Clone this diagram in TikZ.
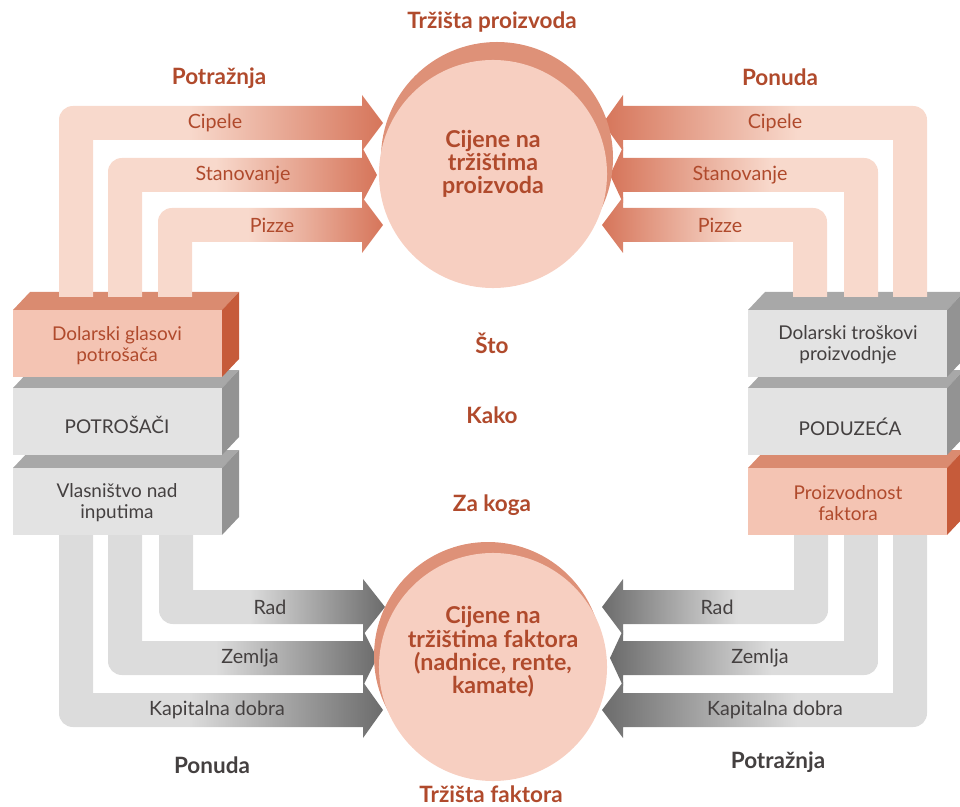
\documentclass[tikz,border=0pt]{standalone}
\usepackage{fontspec}
\setmainfont{Lato}
\usepackage{tikz}

\definecolor{rust}{HTML}{B04A2C}
\definecolor{ink}{HTML}{444040}
\definecolor{pkL}{HTML}{F8D9CC}
\definecolor{pkD}{HTML}{D6755A}
\definecolor{grL}{HTML}{DCDCDC}
\definecolor{grD}{HTML}{6C6C6C}
\definecolor{diskF}{HTML}{F7CFC1}
\definecolor{diskB}{HTML}{DE9178}
\definecolor{pkfront}{HTML}{F4C4B3}
\definecolor{pktop}{HTML}{DA8B70}
\definecolor{pkside}{HTML}{C65B3A}
\definecolor{grfront}{HTML}{E3E3E3}
\definecolor{grtop}{HTML}{A8A8A8}
\definecolor{grside}{HTML}{939393}

\pgfdeclarehorizontalshading{pkright}{100bp}{color(0bp)=(pkL); color(45bp)=(pkL); color(75bp)=(pkD); color(100bp)=(pkD)}
\pgfdeclarehorizontalshading{pkleft}{100bp}{color(0bp)=(pkD); color(25bp)=(pkD); color(55bp)=(pkL); color(100bp)=(pkL)}
\pgfdeclarehorizontalshading{grright}{100bp}{color(0bp)=(grL); color(45bp)=(grL); color(75bp)=(grD); color(100bp)=(grD)}
\pgfdeclarehorizontalshading{grleft}{100bp}{color(0bp)=(grD); color(25bp)=(grD); color(55bp)=(grL); color(100bp)=(grL)}

\newcommand{\slab}[5]{%
  \fill[#5top] (#1,#3) -- (#1+17,#3-18) -- (#2+17,#3-18) -- (#2,#3) -- cycle;
  \fill[#5side] (#2,#3) -- (#2+17,#3-18) -- (#2+17,#4-18) -- (#2,#4) -- cycle;
  \fill[#5front] (#1,#3) rectangle (#2,#4);}

\newcommand{\flow}[6]{%
  \pgfmathtruncatemacro{\fa}{#2>#6 ? 1 : -1}
  \pgfmathtruncatemacro{\fb}{#3>#4 ? 1 : -1}
  \shade[shading=#1] (#2+\fa*17,#4) -- (#2+\fa*17,#3+\fb*3)
    .. controls (#2+\fa*17,#3+\fb*11) and (#2+\fa*11,#3+\fb*17) .. (#2+\fa*3,#3+\fb*17)
    -- (#5,#3+\fb*17) -- (#5,#3+\fb*28) -- (#6,#3) -- (#5,#3-\fb*28) -- (#5,#3-\fb*17)
    -- (#2-\fa*17,#3-\fb*17) -- (#2-\fa*17,#4) -- cycle;}

\tikzset{
  title/.style={font=\bfseries\fontsize{16}{18}\selectfont, text=rust, inner sep=1pt},
  lbl/.style={font=\fontsize{14}{16}\selectfont},
  boxtxt/.style={font=\fontsize{13.5}{15}\selectfont, align=center, text=ink},
  disk/.style={circle, fill=diskF, minimum size=5.7cm, inner sep=0pt},
  disktxt/.style={font=\bfseries\fontsize{16.5}{16.5}\selectfont, align=center, text=rust}
}

\begin{document}
\begin{tikzpicture}[x=0.025cm, y=-0.025cm]

\useasboundingbox (0,0) rectangle (960,807);

\slab{13}{222}{468}{535}{gr}
\slab{13}{222}{388}{455}{gr}
\slab{13}{222}{310}{377}{pk}
\slab{748}{947}{468}{535}{pk}
\slab{748}{947}{388}{455}{gr}
\slab{748}{947}{310}{377}{gr}

\flow{pkright}{76}{123}{297}{362}{383}
\flow{pkright}{125}{175}{297}{362}{377}
\flow{pkright}{175}{225}{297}{362}{383}
\flow{pkleft}{910}{123}{297}{623}{603}
\flow{pkleft}{861}{175}{297}{623}{610}
\flow{pkleft}{810}{225}{297}{623}{602}

\flow{grright}{176}{607}{535}{363}{385}
\flow{grright}{125}{658}{535}{363}{377}
\flow{grright}{76}{710}{535}{363}{383}
\flow{grleft}{811}{607}{535}{623}{602}
\flow{grleft}{861}{658}{535}{623}{610}
\flow{grleft}{910}{710}{535}{623}{602}

\fill[diskB] (497,158) circle[radius=116];
\node[disk] (prodmkt) at (493,174) {};
\fill[diskB] (488,656) circle[radius=114];
\node[disk] (factmkt) at (493,667) {};

\node[disktxt] (prodprice) at (493,164) {Cijene na\\tržištima\\proizvoda};
\node[disktxt] (factprice) at (493,652) {Cijene na\\tržištima faktora\\(nadnice, rente,\\kamate)};

\node[title] (prodhead) at (492,22) {Tržišta proizvoda};
\node[title] (facthead) at (491,794) {Tržišta faktora};
\node[title] (demtop) at (219,78) {Potražnja};
\node[title] (suptop) at (780,77) {Ponuda};
\node[title] (what) at (492,343) {Što};
\node[title] (how) at (492,415) {Kako};
\node[title] (whom) at (492,505) {Za koga};
\node[title, text=ink] (supbot) at (212,765) {Ponuda};
\node[title, text=ink] (dembot) at (778,762) {Potražnja};

\node[lbl, text=rust] (shoesL) at (215,123) {Cipele};
\node[lbl, text=rust] (houseL) at (243,175) {Stanovanje};
\node[lbl, text=rust] (pizzaL) at (272,225) {Pizze};
\node[lbl, text=rust] (shoesR) at (775,123) {Cipele};
\node[lbl, text=rust] (houseR) at (740,175) {Stanovanje};
\node[lbl, text=rust] (pizzaR) at (720,225) {Pizze};

\node[lbl, text=ink] (labourL) at (270,607) {Rad};
\node[lbl, text=ink] (landL) at (250,658) {Zemlja};
\node[lbl, text=ink] (capL) at (217,710) {Kapitalna dobra};
\node[lbl, text=ink] (labourR) at (717,607) {Rad};
\node[lbl, text=ink] (landR) at (760,658) {Zemlja};
\node[lbl, text=ink] (capR) at (775,710) {Kapitalna dobra};

\node[boxtxt, text=rust] (votes) at (117,346) {Dolarski glasovi\\potrošača};
\node[boxtxt] (buyers) at (117,425) {POTROŠAČI};
\node[boxtxt] (owners) at (117,503) {Vlasništvo nad\\inputima};
\node[boxtxt] (costs) at (848,345) {Dolarski troškovi\\proizvodnje};
\node[boxtxt] (firms) at (850,427) {PODUZEĆA};
\node[boxtxt, text=rust] (yield) at (848,503) {Proizvodnost\\faktora};

\end{tikzpicture}
\end{document}
